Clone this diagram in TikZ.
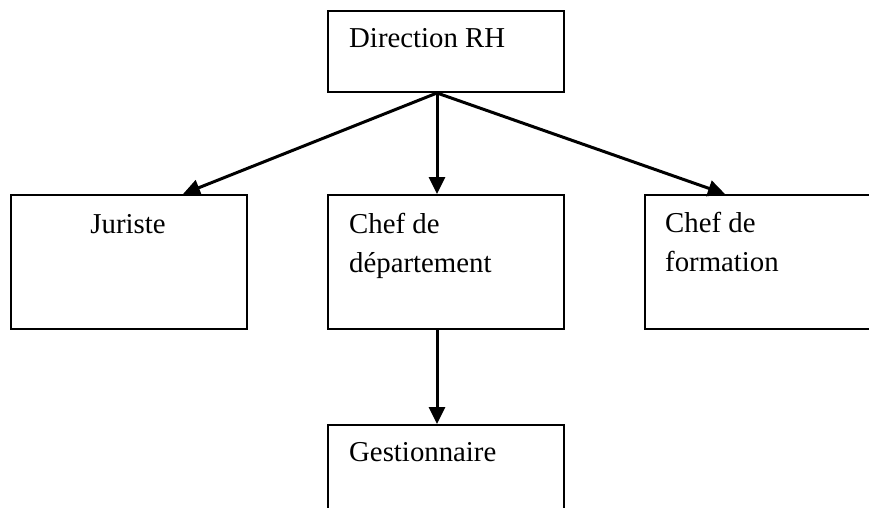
\documentclass[tikz,border=0pt]{standalone}
\usepackage{fontspec}
\setmainfont{Liberation Serif}
\usetikzlibrary{arrows.meta,calc}
\begin{document}
\begin{tikzpicture}[x=1pt,y=-1pt,
  frame/.style={draw, line width=2pt, anchor=north west, inner sep=0pt, minimum width=236pt},
  caption/.style={anchor=base west, inner sep=0pt, align=left, font=\fontsize{28.8}{39}\selectfont},
  link/.style={line width=3pt, -{Triangle[length=17pt,width=16pt]}}]
\useasboundingbox (0,0) rectangle (869,508);
\clip (0,0) rectangle (869,508);

% boxes of the chart
\node[frame, minimum height=81pt] (dir) at (327,10) {};
\node[frame, minimum height=134pt] (jur) at (10,194) {};
\node[frame, minimum height=134pt] (chef) at (327,194) {};
\node[frame, minimum height=134pt, minimum width=250pt] (form) at (644,194) {};
\node[frame, minimum height=134pt] (gest) at (327,424) {};

% labels (two-line labels are placed by the baseline of their last line)
\node[caption] (dir-t) at (349,48) {Direction RH};
\node[caption, anchor=base] (jur-t) at (128,233) {Juriste};
\node[caption] (chef-t) at (349,272) {Chef de\\département};
\node[caption] (form-t) at (665,271) {Chef de\\formation};
\node[caption] (gest-t) at (349,461) {Gestionnaire};

% connectors
\coordinate (hub) at ($(dir.south west)+(110,0)$);
\coordinate (jur-in) at ($(jur.north west)+(173,0)$);
\coordinate (chef-in) at ($(chef.north west)+(110,0)$);
\coordinate (form-in) at ($(form.north west)+(81,0)$);
\coordinate (chef-out) at ($(chef.south west)+(110,0)$);
\coordinate (gest-in) at ($(gest.north west)+(110,0)$);
\draw[link] (hub) -- (jur-in);
\draw[link] (hub) -- (chef-in);
\draw[link] (hub) -- (form-in);
\draw[link] (chef-out) -- (gest-in);
\end{tikzpicture}
\end{document}
